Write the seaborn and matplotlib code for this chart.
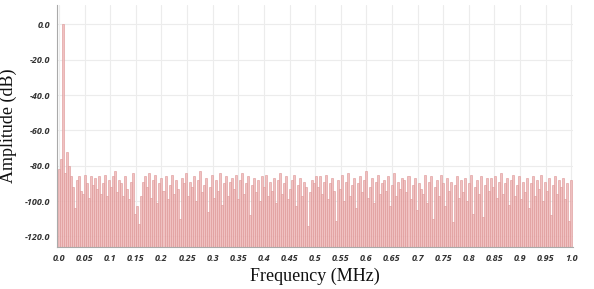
import numpy as np
import matplotlib
matplotlib.use("Agg")
import matplotlib.pyplot as plt
import seaborn as sns
from matplotlib.ticker import MultipleLocator

# amplitude spectrum (dB), evenly spaced bins 0..1 MHz
amp_db = [
    -82, -76, 0.0, -84, -72, -80, -86, -92, -104, -88, -86, -94, -96, -85, -90,
    -98, -86, -91, -87, -93, -86, -96, -90, -85, -97, -88, -92, -86, -83, -95,
    -88, -90, -97, -86, -93, -99, -89, -84, -107, -103, -113, -97, -89,
    -86, -92, -84, -98, -88, -85, -101, -90, -87, -94, -86, -99, -91, -85, -96,
    -88, -93, -110, -87, -90, -84, -97, -89, -92, -86, -100, -88, -83, -95, -91,
    -87, -106, -92, -85, -98, -88, -94, -84, -102, -90, -86, -97, -89,
    -87, -93, -85, -99, -88, -84, -96, -90, -86, -108, -91, -87, -95, -88, -100,
    -86, -92, -85, -97, -89, -94, -87, -101, -88, -84, -96, -90, -86, -99, -93,
    -88, -85, -103, -91, -87, -97, -89, -92, -114, -95, -88, -90, -86,
    -92, -86, -96, -89, -85, -99, -90, -87, -94, -111, -88, -93, -85, -100, -89,
    -84, -97, -91, -87, -104, -90, -86, -95, -88, -83, -98, -92, -87, -101, -89,
    -85, -96, -90, -88, -94, -86, -103, -91, -84, -97, -89, -93, -87,
    -88, -95, -86, -99, -91, -87, -105, -90, -93, -96, -85, -101, -89, -86, -110,
    -92, -88, -97, -85, -90, -103, -87, -94, -89, -112, -91, -86, -98, -88, -95,
    -87, -100, -90, -85, -107, -92, -88, -96, -86, -109, -91, -87, -94,
    -87, -92, -86, -98, -89, -84, -96, -90, -87, -102, -88, -85, -97, -91, -86,
    -99, -89, -95, -87, -104, -90, -86, -97, -88, -93, -85, -100, -89, -94, -87,
    -108, -91, -86, -96, -88, -92, -87, -99, -90, -111, -88,
]
freq = np.arange(len(amp_db)) / (len(amp_db) - 1)  # MHz bins

xticks = [i * 0.05 for i in range(21)]
xticklabels = ["0.0", "0.05", "0.1", "0.15", "0.2", "0.25", "0.3", "0.35", "0.4",
               "0.45", "0.5", "0.55", "0.6", "0.65", "0.7", "0.75", "0.8", "0.85",
               "0.9", "0.95", "1.0"]
yticks = [0, -20, -40, -60, -80, -100, -120]
floor_db = -126

sns.set_theme(style="white")

fig = plt.figure(figsize=(5.94, 2.89), dpi=100)
ax = fig.add_axes([0.096, 0.145, 0.869, 0.838])

step = freq[1] - freq[0]
heights = np.array(amp_db) - floor_db
ax.bar(freq, heights, bottom=floor_db, width=step, color="#efbcbc",
       edgecolor="#dd9595", linewidth=0.45, alpha=0.9, align="center")

ax.set_xlim(-0.004, 1.004)
ax.set_ylim(floor_db, 11)

ax.set_xticks(xticks)
ax.set_xticklabels(xticklabels)
ax.set_yticks(yticks)
ax.set_yticklabels([f"{v:.1f}" for v in yticks])
ax.xaxis.set_minor_locator(MultipleLocator(0.005))
ax.yaxis.set_minor_locator(MultipleLocator(2))

ax.grid(True, which="major", color="#ececec", linewidth=0.8)
ax.set_axisbelow(True)

for s in ["top", "right"]:
    ax.spines[s].set_visible(False)
for s in ["left", "bottom"]:
    ax.spines[s].set_color("#aaaaaa")
    ax.spines[s].set_linewidth(0.8)

ax.tick_params(which="both", direction="out", colors="#999999", labelcolor="#333333")
ax.tick_params(which="major", length=3, width=0.6, labelsize=6.5, pad=2)
ax.tick_params(which="minor", length=2, width=0.5)
for lab in ax.get_xticklabels() + ax.get_yticklabels():
    lab.set_fontfamily("Open Sans")
    lab.set_fontweight("bold")
    lab.set_fontstyle("italic")

ax.set_xlabel("Frequency (MHz)", family="Liberation Serif", fontsize=13,
              color="#111111", labelpad=3)
ax.set_ylabel("Amplitude (dB)", family="Liberation Serif", fontsize=13,
              color="#111111")
ax.yaxis.set_label_coords(-0.078, 0.5)

fig.savefig("out.png", dpi=100)
